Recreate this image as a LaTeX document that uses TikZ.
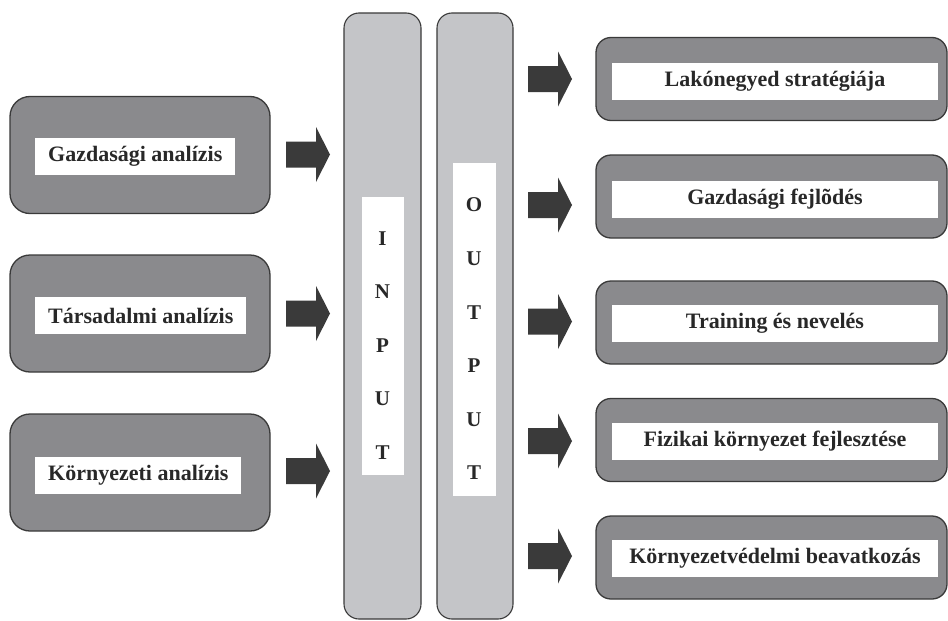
\documentclass[tikz,border=0pt]{standalone}
\usepackage{fontspec}
\setmainfont{Liberation Serif}
\definecolor{boxgray}{RGB}{138,138,141}
\definecolor{colgray}{RGB}{196,197,200}
\definecolor{linegray}{RGB}{58,58,58}
\definecolor{arrowgray}{RGB}{58,58,58}
\definecolor{textdark}{RGB}{40,40,40}
\begin{document}
\begin{tikzpicture}[x=1pt,y=-1pt,
  lbox/.style={draw=linegray, line width=1.3pt, fill=boxgray, rounded corners=20pt,
    minimum width=260pt, minimum height=117pt, inner sep=0pt},
  rbox/.style={draw=linegray, line width=1.3pt, fill=boxgray, rounded corners=15pt,
    minimum width=351pt, minimum height=83pt, inner sep=0pt},
  colbox/.style={draw=linegray, line width=1.1pt, fill=colgray, rounded corners=15pt,
    minimum height=606pt, inner sep=0pt},
  lbl/.style={fill=white, text=textdark, font=\fontsize{22}{26}\selectfont\bfseries,
    minimum height=37pt, inner xsep=13pt, inner ysep=0pt},
  rlbl/.style={lbl, minimum width=326pt},
  letters/.style={text=textdark, font=\fontsize{21}{53.6}\selectfont\bfseries,
    align=center, inner sep=0pt},
  blockarrow/.pic={\fill[arrowgray] (-22,-13) -- (8,-13) -- (8,-27.5) -- (22,0)
    -- (8,27.5) -- (8,13) -- (-22,13) -- cycle;}
]
\fill[white] (0,0) rectangle (948,621);
\useasboundingbox (0,0) rectangle (948,621);

% left boxes
\node[lbox] (g) at (140,155) {};
\node[lbox] (t) at (140,313.5) {};
\node[lbox] (k) at (140,472.5) {};
\node[lbl, anchor=west] (gl) at (35,156.5) {Gazdasági analízis};
\node[lbl, anchor=west] (tl) at (35,315.5) {Társadalmi analízis};
\node[lbl, anchor=west] (kl) at (35,475) {Környezeti analízis};

% left arrows
\pic at (308,154.5) {blockarrow};
\pic at (308,313.5) {blockarrow};
\pic at (308,471) {blockarrow};

% columns
\node[colbox, minimum width=77pt] (in) at (382.5,316) {};
\node[colbox, minimum width=76pt] (out) at (475,316) {};
\node[fill=white, minimum width=42pt, minimum height=278pt, inner sep=0pt] (inw) at (383,336) {};
\node[fill=white, minimum width=43pt, minimum height=333pt, inner sep=0pt] (outw) at (474.5,329.5) {};
\node[letters] (inl) at (382.5,345.5) {I\\N\\P\\U\\T};
\node[letters] (outl) at (474,339) {O\\U\\T\\P\\U\\T};

% right arrows
\pic at (550,79) {blockarrow};
\pic at (550,205) {blockarrow};
\pic at (550,321.5) {blockarrow};
\pic at (550,441) {blockarrow};
\pic at (550,556) {blockarrow};

% right boxes
\node[rbox] (r1) at (771.5,79) {};
\node[rbox] (r2) at (771.5,196.5) {};
\node[rbox] (r3) at (771.5,322.5) {};
\node[rbox] (r4) at (771.5,440) {};
\node[rbox] (r5) at (771.5,557.5) {};
\node[rlbl] (r1l) at (775,81.5) {Lakónegyed stratégiája};
\node[rlbl] (r2l) at (775,199) {Gazdasági fejlõdés};
\node[rlbl] (r3l) at (775,323.5) {Training és nevelés};
\node[rlbl] (r4l) at (775,441) {Fizikai környezet fejlesztése};
\node[rlbl] (r5l) at (775,558.5) {Környezetvédelmi beavatkozás};
\end{tikzpicture}
\end{document}
